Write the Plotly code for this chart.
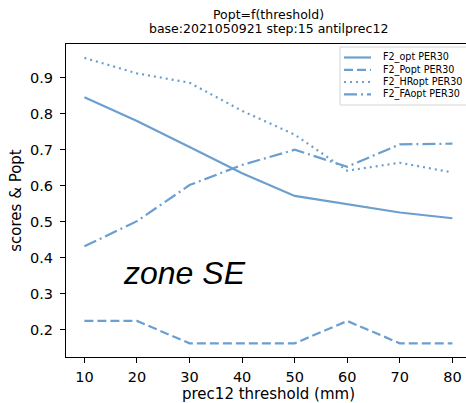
import plotly.graph_objects as go

thresholds = [10, 20, 30, 40, 50, 60, 70, 80]
f2_opt = [0.846, 0.780, 0.708, 0.635, 0.572, 0.549, 0.526, 0.510]
f2_popt = [0.225, 0.225, 0.163, 0.163, 0.163, 0.225, 0.163, 0.163]
f2_hropt = [0.955, 0.912, 0.886, 0.808, 0.742, 0.642, 0.664, 0.637]
f2_faopt = [0.432, 0.502, 0.602, 0.658, 0.700, 0.653, 0.715, 0.717]
names = ["F2_opt PER30", "F2_Popt PER30", "F2_HRopt PER30", "F2_FAopt PER30"]
dashes = ["solid", "9px,4px", "2px,4px", "13px,4px,2px,4px"]
series = [f2_opt, f2_popt, f2_hropt, f2_faopt]
title_lines = ["Popt=f(threshold)", "base:2021050921 step:15 antilprec12"]
x_title = "prec12 threshold (mm)"
y_title = "scores & Popt"

color = "#6a9fcf"
font = "DejaVu Sans"

W, H = 466, 403
L, R, T, B = 66, 0, 44, 46
PW, PH = W - L - R, H - T - B


def px(x):
    return (x - L) / PW


def py(y):
    return (H - B - y) / PH


fig = go.Figure()
for name, vals, dash in zip(names, series, dashes):
    fig.add_trace(go.Scatter(x=thresholds, y=vals, mode="lines", name=name,
                             line=dict(color=color, width=2.2, dash=dash),
                             showlegend=False))

fig.update_layout(
    width=W, height=H,
    margin=dict(l=L, r=R, t=T, b=B, pad=0),
    plot_bgcolor="white", paper_bgcolor="white",
    font=dict(family=font, size=14.5, color="black"),
    xaxis=dict(range=[6.5, 6.5 + PW / 5.257], tickmode="array",
               tickvals=thresholds, ticks="outside", ticklen=5, tickwidth=1,
               tickcolor="black", showline=True, linecolor="black", linewidth=1.2,
               mirror=True, showgrid=False, zeroline=False, ticklabelstandoff=1,
               tickfont=dict(size=14.5)),
    yaxis=dict(range=[0.125, 0.9935], tick0=0.2, dtick=0.1, tickformat=".1f",
               ticks="outside", ticklen=5, tickwidth=1, tickcolor="black",
               showline=True, linecolor="black", linewidth=1.2,
               showgrid=False, zeroline=False, ticklabelstandoff=4,
               tickfont=dict(size=14.5),
               title=dict(text=y_title, standoff=4, font=dict(size=15))),
    showlegend=False,
)

# x-axis title placed like matplotlib's xlabel
fig.add_annotation(text=x_title, xref="paper", yref="paper", x=px(268), y=py(394),
                   xanchor="center", yanchor="middle", showarrow=False,
                   font=dict(family=font, size=15, color="black"))

# title (two lines)
for txt, yc in zip(title_lines, [14.5, 29]):
    fig.add_annotation(text=txt, xref="paper", yref="paper", x=px(268), y=py(yc),
                       xanchor="center", yanchor="middle", showarrow=False,
                       font=dict(family=font, size=12.5, color="black"))

# legend drawn manually (matplotlib-like compact spacing)
fig.add_shape(type="rect", xref="paper", yref="paper",
              x0=px(340), x1=px(475), y0=py(105), y1=py(47),
              line=dict(color="#d5d5d5", width=1), fillcolor="rgba(255,255,255,0.8)",
              layer="above")
row_y = [57.5, 69.8, 82.0, 94.3]
for name, dash, yc in zip(names, dashes, row_y):
    fig.add_shape(type="line", xref="paper", yref="paper",
                  x0=px(344), x1=px(371), y0=py(yc), y1=py(yc),
                  line=dict(color=color, width=2.2, dash=dash), layer="above")
    fig.add_annotation(text=name, xref="paper", yref="paper", x=px(381), y=py(yc),
                       xanchor="left", yanchor="middle", showarrow=False,
                       font=dict(family=font, size=9.6, color="black"))

fig.add_annotation(text="<i>zone SE</i>", xref="paper", yref="paper",
                   x=px(184), y=py(273), xanchor="center", yanchor="middle",
                   showarrow=False,
                   font=dict(family="Liberation Sans", size=32, color="black"))
fig.write_html("out.html")
